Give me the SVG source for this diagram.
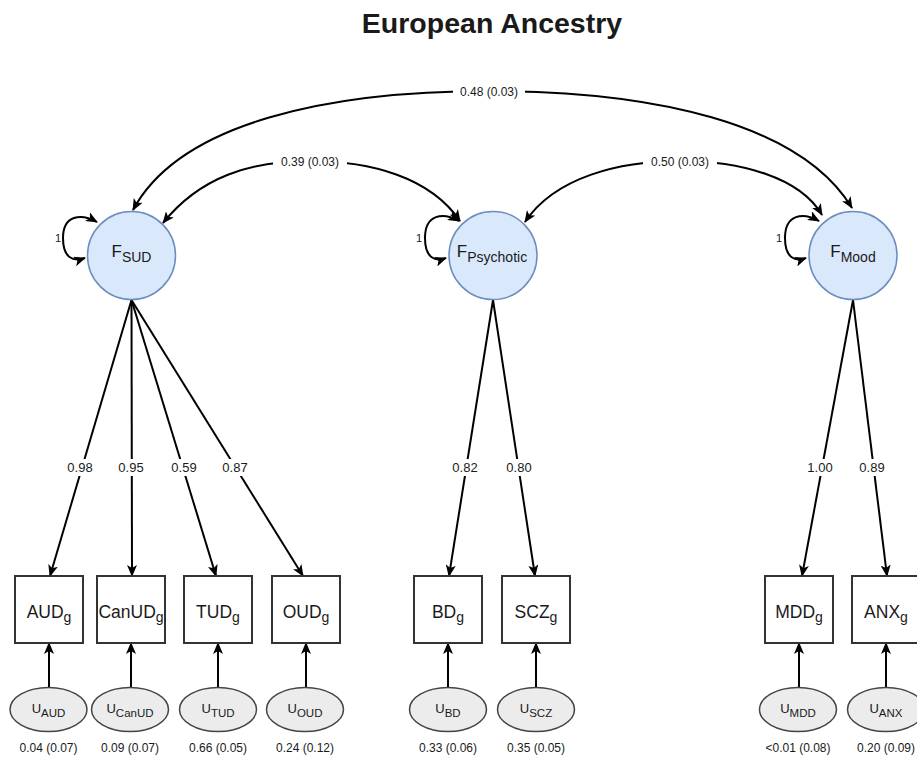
<svg xmlns="http://www.w3.org/2000/svg" width="917" height="761" viewBox="0 0 917 761">
<defs>
<marker id="arr" viewBox="0 0 12 10" refX="11" refY="5" markerWidth="12" markerHeight="10" markerUnits="userSpaceOnUse" orient="auto-start-reverse">
<path d="M0,0 L12,5 L0,10 L3,5 z" fill="#000"/>
</marker>
<style>
.t{font-family:"Liberation Sans",Arial,Helvetica,sans-serif;fill:#1a1a1a}
.lat{fill:#dae8fc;stroke:#6c8ebf;stroke-width:1.5}
.box{fill:#fff;stroke:#333;stroke-width:2}
.err{fill:#ececec;stroke:#444;stroke-width:1.5}
.e{fill:none;stroke:#000;stroke-width:2}
.ea{fill:none;stroke:#000;stroke-width:2;marker-end:url(#arr)}
.eb{fill:none;stroke:#000;stroke-width:2;marker-end:url(#arr);marker-start:url(#arr)}
.lb{fill:#fff}
.lt{font-size:12px;text-anchor:middle}
.ld{font-size:13px;text-anchor:middle}
.fv{font-size:17px;text-anchor:middle}
.bx{font-size:17.5px;text-anchor:middle}
.uv{font-size:13px;text-anchor:middle}
</style>
</defs>
<rect width="917" height="761" fill="#fff"/>
<text class="t" x="492" y="33" font-size="28.5" font-weight="bold" text-anchor="middle">European Ancestry</text>

<g id="connectors">
<!-- covariances -->
<path class="eb" d="M133,210 C180,122 330,91 490,91 C650,91 800,122 852,208"/>
<path class="eb" d="M163,223 C200,177 250,161 310,161 C370,161 430,177 460,221"/>
<path class="eb" d="M525,222 C555,177 620,161 680,161 C740,161 800,177 822,215"/>
<rect class="lb" x="453" y="84" width="72" height="15"/>
<text class="t lt" x="489" y="95.5">0.48 (0.03)</text>
<rect class="lb" x="273" y="154" width="74" height="15"/>
<text class="t lt" x="310" y="165.5">0.39 (0.03)</text>
<rect class="lb" x="643" y="154" width="74" height="15"/>
<text class="t lt" x="680" y="165.5">0.50 (0.03)</text>
<!-- self loops -->
<path class="eb" d="M97,222 C81,213 63,215 63,238 C63,258 73,262 85,258"/>
<text class="t" x="58" y="242" font-size="11" text-anchor="middle">1</text>
<path class="eb" d="M459,221 C443,212 425,214 425,238 C425,258 435,262 446,258"/>
<text class="t" x="419" y="242" font-size="11" text-anchor="middle">1</text>
<path class="eb" d="M819,221 C803,212 785,214 785,238 C785,258 795,262 806,258"/>
<text class="t" x="779" y="242" font-size="11" text-anchor="middle">1</text>
<!-- loadings -->
<path class="ea" d="M131.5,300 L50,576"/>
<path class="ea" d="M131.5,300 L132,576"/>
<path class="ea" d="M131.5,300 L216,576"/>
<path class="ea" d="M131.5,300 L303,576"/>
<path class="ea" d="M493,300 L449,576"/>
<path class="ea" d="M493,300 L535,576"/>
<path class="ea" d="M853,300 L802,576"/>
<path class="ea" d="M853,300 L887,576"/>
<rect class="lb" x="65" y="459" width="31" height="17"/>
<text class="t ld" x="80" y="471.5">0.98</text>
<rect class="lb" x="116" y="459" width="31" height="17"/>
<text class="t ld" x="131" y="471.5">0.95</text>
<rect class="lb" x="169" y="459" width="31" height="17"/>
<text class="t ld" x="184" y="471.5">0.59</text>
<rect class="lb" x="220" y="459" width="31" height="17"/>
<text class="t ld" x="235" y="471.5">0.87</text>
<rect class="lb" x="450" y="459" width="31" height="17"/>
<text class="t ld" x="465" y="471.5">0.82</text>
<rect class="lb" x="504" y="459" width="31" height="17"/>
<text class="t ld" x="519" y="471.5">0.80</text>
<rect class="lb" x="805" y="459" width="31" height="17"/>
<text class="t ld" x="820" y="471.5">1.00</text>
<rect class="lb" x="857" y="459" width="31" height="17"/>
<text class="t ld" x="872" y="471.5">0.89</text>
<!-- residuals -->
<path class="ea" d="M49,687.5 L49,643"/>
<path class="ea" d="M131,687.5 L131,643"/>
<path class="ea" d="M218,687.5 L218,643"/>
<path class="ea" d="M306,687.5 L306,643"/>
<path class="ea" d="M448,687.5 L448,643"/>
<path class="ea" d="M536,687.5 L536,643"/>
<path class="ea" d="M799,687.5 L799,643"/>
<path class="ea" d="M886,687.5 L886,643"/>
</g>

<g id="F_SUD">
<circle class="lat" cx="131.5" cy="255.5" r="44"/>
<text class="t fv" x="131.5" y="257">F<tspan font-size="14" dy="5">SUD</tspan></text>
</g>
<g id="F_Psychotic">
<circle class="lat" cx="493" cy="255.5" r="44"/>
<text class="t fv" x="492" y="257">F<tspan font-size="14" dy="5">Psychotic</tspan></text>
</g>
<g id="F_Mood">
<circle class="lat" cx="853" cy="255.5" r="44"/>
<text class="t fv" x="853" y="257">F<tspan font-size="14" dy="5">Mood</tspan></text>
</g>

<g id="AUD_g"><rect class="box" x="15" y="576" width="68" height="67"/><text class="t bx" x="49" y="617.5">AUD<tspan font-size="14" dy="4">g</tspan></text></g>
<g id="CanUD_g"><rect class="box" x="97" y="576" width="68" height="67"/><text class="t bx" x="131" y="617.5">CanUD<tspan font-size="14" dy="4">g</tspan></text></g>
<g id="TUD_g"><rect class="box" x="184" y="576" width="68" height="67"/><text class="t bx" x="218" y="617.5">TUD<tspan font-size="14" dy="4">g</tspan></text></g>
<g id="OUD_g"><rect class="box" x="272" y="576" width="68" height="67"/><text class="t bx" x="306" y="617.5">OUD<tspan font-size="14" dy="4">g</tspan></text></g>
<g id="BD_g"><rect class="box" x="414" y="576" width="68" height="67"/><text class="t bx" x="448" y="617.5">BD<tspan font-size="14" dy="4">g</tspan></text></g>
<g id="SCZ_g"><rect class="box" x="502" y="576" width="68" height="67"/><text class="t bx" x="536" y="617.5">SCZ<tspan font-size="14" dy="4">g</tspan></text></g>
<g id="MDD_g"><rect class="box" x="765" y="576" width="68" height="67"/><text class="t bx" x="799" y="617.5">MDD<tspan font-size="14" dy="4">g</tspan></text></g>
<g id="ANX_g"><rect class="box" x="852" y="576" width="68" height="67"/><text class="t bx" x="886" y="617.5">ANX<tspan font-size="14" dy="4">g</tspan></text></g>

<g id="U_AUD"><ellipse class="err" cx="48.5" cy="709.5" rx="38.5" ry="22"/><text class="t uv" x="48.5" y="713">U<tspan font-size="11.5" dy="4">AUD</tspan></text><text class="t lt" x="48.5" y="752">0.04 (0.07)</text></g>
<g id="U_CanUD"><ellipse class="err" cx="130" cy="709.5" rx="38.5" ry="22"/><text class="t uv" x="130" y="713">U<tspan font-size="11.5" dy="4">CanUD</tspan></text><text class="t lt" x="130" y="752">0.09 (0.07)</text></g>
<g id="U_TUD"><ellipse class="err" cx="218" cy="709.5" rx="38.5" ry="22"/><text class="t uv" x="218" y="713">U<tspan font-size="11.5" dy="4">TUD</tspan></text><text class="t lt" x="218" y="752">0.66 (0.05)</text></g>
<g id="U_OUD"><ellipse class="err" cx="305" cy="709.5" rx="38.5" ry="22"/><text class="t uv" x="305" y="713">U<tspan font-size="11.5" dy="4">OUD</tspan></text><text class="t lt" x="305" y="752">0.24 (0.12)</text></g>
<g id="U_BD"><ellipse class="err" cx="448" cy="709.5" rx="38.5" ry="22"/><text class="t uv" x="448" y="713">U<tspan font-size="11.5" dy="4">BD</tspan></text><text class="t lt" x="448" y="752">0.33 (0.06)</text></g>
<g id="U_SCZ"><ellipse class="err" cx="536" cy="709.5" rx="38.5" ry="22"/><text class="t uv" x="536" y="713">U<tspan font-size="11.5" dy="4">SCZ</tspan></text><text class="t lt" x="536" y="752">0.35 (0.05)</text></g>
<g id="U_MDD"><ellipse class="err" cx="798" cy="709.5" rx="38.5" ry="22"/><text class="t uv" x="798" y="713">U<tspan font-size="11.5" dy="4">MDD</tspan></text><text class="t lt" x="798" y="752">&lt;0.01 (0.08)</text></g>
<g id="U_ANX"><ellipse class="err" cx="886" cy="709.5" rx="38.5" ry="22"/><text class="t uv" x="886" y="713">U<tspan font-size="11.5" dy="4">ANX</tspan></text><text class="t lt" x="886" y="752">0.20 (0.09)</text></g>
</svg>
